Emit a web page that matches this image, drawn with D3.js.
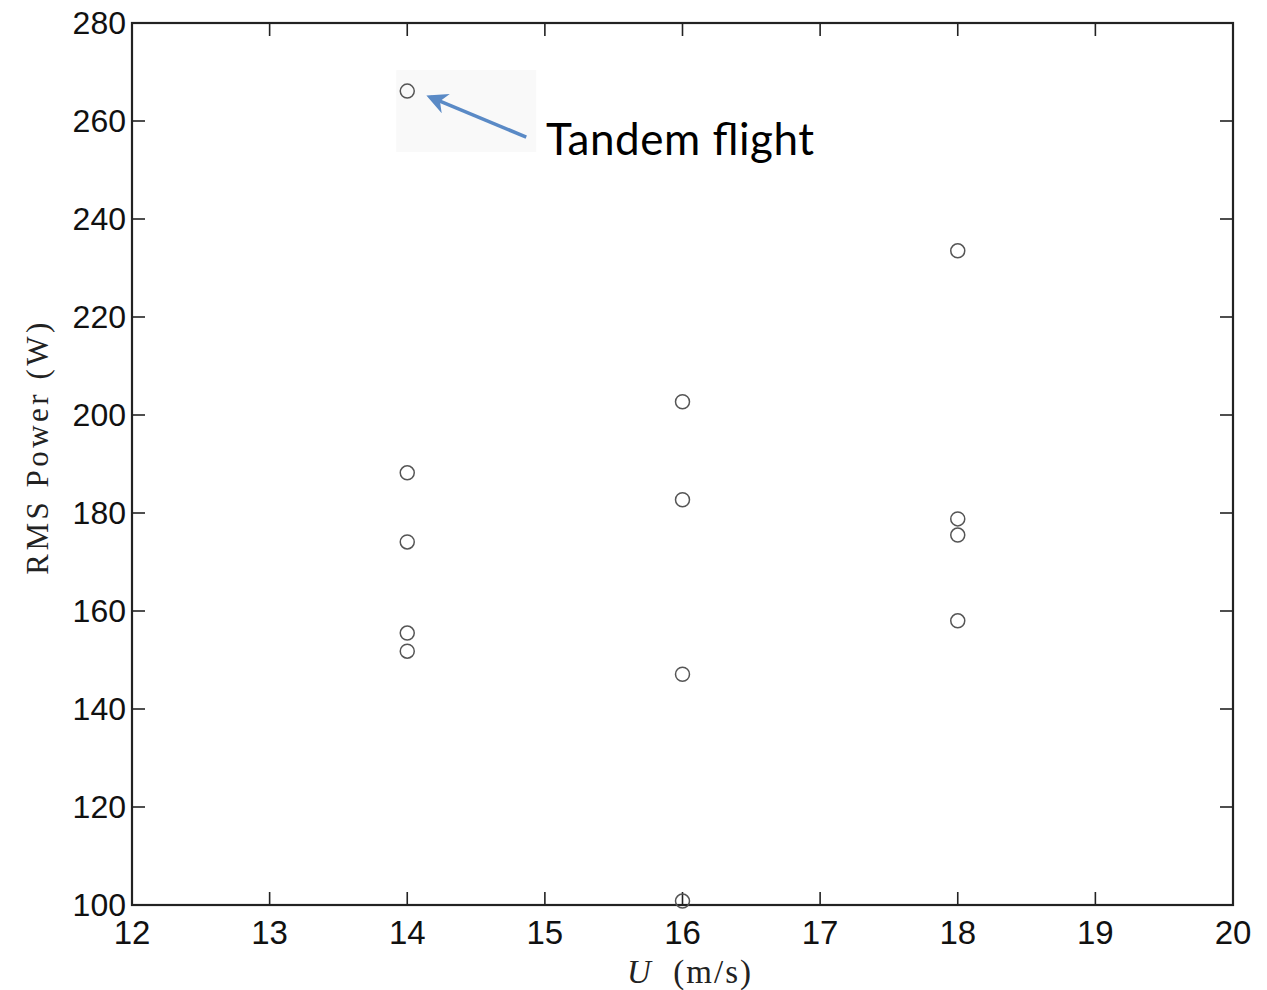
<!DOCTYPE html>
<html>
<head>
<meta charset="utf-8">
<script src="https://cdn.jsdelivr.net/npm/d3@7"></script>
<style>
  html, body { margin: 0; padding: 0; background: #fff; }
  svg { display: block; }
</style>
</head>
<body>
<svg id="chart" width="1267" height="990"></svg>
<script>
// Measured airspeed (m/s) and RMS power (W) for each flight
const speeds = [14, 14, 14, 14, 14, 16, 16, 16, 16, 18, 18, 18, 18];
const power  = [266.1, 188.2, 174.1, 155.5, 151.8, 202.7, 182.7, 147.1, 100.8, 233.5, 178.8, 175.5, 158];
const xTicks = [12, 13, 14, 15, 16, 17, 18, 19, 20];
const yTicks = [100, 120, 140, 160, 180, 200, 220, 240, 260, 280];
const tandemIndex = 0;
const tandemLabel = "Tandem flight";

const svg = d3.select("#chart");
const plotLeft = 132, plotRight = 1233, plotTop = 23, plotBottom = 905;

const x = d3.scaleLinear().domain([12, 20]).range([plotLeft, plotRight]);
const y = d3.scaleLinear().domain([100, 280]).range([plotBottom, plotTop]);

const tickLen = 13;
const axisColor = "#222";

// Faint highlight panel behind the tandem-flight point
const tx = x(speeds[tandemIndex]), ty = y(power[tandemIndex]);
svg.append("rect")
  .attr("x", tx - 11).attr("y", ty - 21)
  .attr("width", 140).attr("height", 82)
  .attr("fill", "#f9f9f9");

// Inward ticks on all four sides
const g = svg.append("g").attr("stroke", axisColor).attr("stroke-width", 1.6);
xTicks.forEach(t => {
  g.append("line").attr("x1", x(t)).attr("x2", x(t)).attr("y1", plotBottom).attr("y2", plotBottom - tickLen);
  g.append("line").attr("x1", x(t)).attr("x2", x(t)).attr("y1", plotTop).attr("y2", plotTop + tickLen);
});
yTicks.forEach(t => {
  g.append("line").attr("x1", plotLeft).attr("x2", plotLeft + tickLen).attr("y1", y(t)).attr("y2", y(t));
  g.append("line").attr("x1", plotRight).attr("x2", plotRight - tickLen).attr("y1", y(t)).attr("y2", y(t));
});

// Frame
svg.append("rect")
  .attr("x", plotLeft).attr("y", plotTop)
  .attr("width", plotRight - plotLeft).attr("height", plotBottom - plotTop)
  .attr("fill", "none").attr("stroke", axisColor).attr("stroke-width", 2.2);

// Tick labels
const tickFont = "'Liberation Sans', Arial, Helvetica, sans-serif";
svg.append("g").selectAll("text").data(xTicks).join("text")
  .attr("x", d => x(d)).attr("y", 944)
  .attr("text-anchor", "middle")
  .attr("font-family", tickFont).attr("font-size", 33)
  .attr("fill", "#111")
  .text(d => d);
svg.append("g").selectAll("text").data(yTicks).join("text")
  .attr("x", plotLeft - 6).attr("y", d => y(d) + 11)
  .attr("text-anchor", "end")
  .attr("font-family", tickFont).attr("font-size", 32)
  .attr("fill", "#111")
  .text(d => d);

// Axis titles
const xt = svg.append("text")
  .attr("x", 690).attr("y", 983)
  .attr("text-anchor", "middle")
  .attr("font-family", "'Liberation Serif', serif").attr("font-size", 33)
  .attr("letter-spacing", 2)
  .attr("fill", "#222");
xt.append("tspan").attr("font-style", "italic").text("U");
xt.append("tspan").attr("xml:space", "preserve").text("  (m/s)");

svg.append("text")
  .attr("transform", "translate(48,447) rotate(-90)")
  .attr("text-anchor", "middle")
  .attr("font-family", "'Liberation Serif', serif").attr("font-size", 31)
  .attr("fill", "#222")
  .attr("letter-spacing", 3.5)
  .text("RMS Power (W)");

// Data points
svg.append("g").selectAll("circle").data(speeds.map((s, i) => [s, power[i]])).join("circle")
  .attr("cx", d => x(d[0])).attr("cy", d => y(d[1]))
  .attr("r", 7)
  .attr("fill", "none")
  .attr("stroke", "#555")
  .attr("stroke-width", 1.5);

// Annotation arrow and label
svg.append("defs").append("marker")
  .attr("id", "head")
  .attr("viewBox", "0 0 10 10")
  .attr("refX", 8).attr("refY", 5)
  .attr("markerWidth", 6).attr("markerHeight", 6)
  .attr("orient", "auto")
  .append("path")
  .attr("d", "M0,0 L10,5 L0,10 L3,5 Z")
  .attr("fill", "#5a8ac6");

svg.append("line")
  .attr("x1", tx + 119).attr("y1", ty + 46)
  .attr("x2", tx + 23).attr("y2", ty + 6)
  .attr("stroke", "#5a8ac6").attr("stroke-width", 3.5)
  .attr("marker-end", "url(#head)");

svg.append("text")
  .attr("x", 546).attr("y", ty + 64)
  .attr("font-family", "Lato, 'Open Sans', sans-serif").attr("font-size", 44)
  .attr("textLength", 268).attr("lengthAdjust", "spacing")
  .attr("fill", "#000")
  .text(tandemLabel);
</script>
</body>
</html>
